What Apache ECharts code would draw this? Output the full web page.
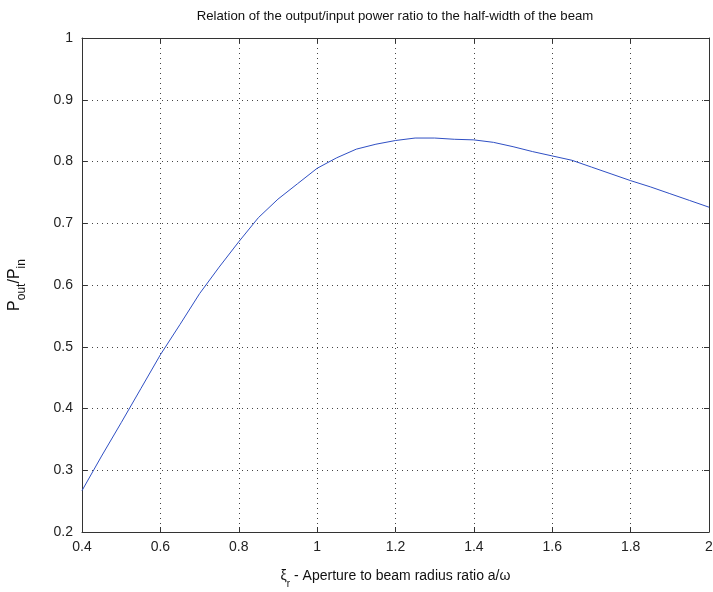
<!DOCTYPE html>
<html>
<head>
<meta charset="utf-8">
<script src="https://cdn.jsdelivr.net/npm/echarts@6/dist/echarts.min.js"></script>
<style>
  html, body { margin: 0; padding: 0; background: #fff; }
  #chart { width: 713px; height: 592px; }
</style>
</head>
<body>
<div id="chart"></div>
<script>
// Aperture-to-beam radius ratio (xi) and corresponding Pout/Pin
const xiValues = [0.4, 0.45, 0.5, 0.55, 0.6, 0.65, 0.7, 0.75, 0.8, 0.85, 0.9, 0.95,
                  1.0, 1.05, 1.1, 1.15, 1.2, 1.25, 1.3, 1.35, 1.4, 1.45, 1.5, 1.55,
                  1.6, 1.65, 1.7, 1.75, 1.8, 1.85, 1.9, 1.95, 2.0];
const powerRatio = [0.267, 0.323, 0.377, 0.432, 0.487, 0.536, 0.586, 0.629, 0.670, 0.709, 0.739, 0.764,
                    0.789, 0.806, 0.820, 0.828, 0.834, 0.838, 0.838, 0.836, 0.835, 0.831, 0.824, 0.816,
                    0.809, 0.802, 0.791, 0.780, 0.769, 0.759, 0.748, 0.737, 0.726];

const xTicks = { min: 0.4, max: 2, step: 0.2 };
const yTicks = { min: 0.2, max: 1, step: 0.1 };

const titleText = 'Relation of the output/input power ratio to the half-width of the beam';

const FONT = 'Liberation Sans, Arial, sans-serif';
const AXIS_COLOR = '#333';

const chart = echarts.init(document.getElementById('chart'), null, { renderer: 'canvas' });

const boxAxis = {
  axisLine: { show: true, lineStyle: { color: AXIS_COLOR, width: 1 } },
  axisTick: { show: true, inside: true, length: 5, lineStyle: { color: AXIS_COLOR } },
  axisLabel: { show: false },
  splitLine: { show: false }
};

chart.setOption({
  animation: false,
  backgroundColor: '#fff',
  title: {
    text: titleText,
    left: 390,
    textAlign: 'center',
    top: 5,
    textStyle: { fontFamily: FONT, fontSize: 13.2, fontWeight: 'normal', color: '#111' }
  },
  grid: { left: 82, right: 4, top: 38, bottom: 60, containLabel: false, outerBoundsMode: 'none' },
  xAxis: [{
    type: 'value',
    min: xTicks.min, max: xTicks.max, interval: xTicks.step,
    position: 'bottom',
    axisLine: { show: true, onZero: false, lineStyle: { color: AXIS_COLOR, width: 1 } },
    axisTick: { show: true, inside: true, length: 5, lineStyle: { color: AXIS_COLOR } },
    axisLabel: { fontFamily: FONT, fontSize: 14, color: '#222', margin: 8 },
    splitLine: { show: true, lineStyle: { color: '#444', type: [1, 4], width: 1 } },
    name: '{x|ξ}{s|r}{t| - Aperture to beam radius ratio a/ω}',
    nameLocation: 'middle',
    nameGap: 35,
    nameTextStyle: {
      fontFamily: FONT, color: '#111',
      rich: {
        x: { fontFamily: FONT, fontSize: 14, color: '#111', lineHeight: 18, verticalAlign: 'middle' },
        s: { fontFamily: FONT, fontSize: 10, color: '#111', lineHeight: 18, verticalAlign: 'bottom', padding: [0, 0, -4, 0] },
        t: { fontFamily: FONT, fontSize: 14, color: '#111', lineHeight: 18, verticalAlign: 'middle' }
      }
    }
  }, Object.assign({
    type: 'value', position: 'top',
    min: xTicks.min, max: xTicks.max, interval: xTicks.step
  }, boxAxis)],
  yAxis: [{
    type: 'value',
    min: yTicks.min, max: yTicks.max, interval: yTicks.step,
    position: 'left',
    axisLine: { show: true, onZero: false, lineStyle: { color: AXIS_COLOR, width: 1 } },
    axisTick: { show: true, inside: true, length: 5, lineStyle: { color: AXIS_COLOR } },
    axisLabel: { fontFamily: FONT, fontSize: 14, color: '#222', margin: 9 },
    splitLine: { show: true, lineStyle: { color: '#444', type: [1, 4], width: 1 } },
    name: '{p|P}{s|out}{p|/P}{s|in}',
    nameLocation: 'middle',
    nameRotate: 90,
    nameGap: 57,
    nameTextStyle: {
      fontFamily: FONT, color: '#111',
      rich: {
        p: { fontFamily: FONT, fontSize: 16, color: '#111', lineHeight: 20, verticalAlign: 'middle' },
        s: { fontFamily: FONT, fontSize: 12, color: '#111', lineHeight: 20, verticalAlign: 'bottom', padding: [0, 0, -3, 0] }
      }
    }
  }, Object.assign({
    type: 'value', position: 'right',
    min: yTicks.min, max: yTicks.max, interval: yTicks.step
  }, boxAxis)],
  series: [{
    type: 'line',
    data: xiValues.map((x, i) => [x, powerRatio[i]]),
    showSymbol: false,
    smooth: false,
    lineStyle: { color: '#2f4fc4', width: 1 },
    clip: true
  }]
});
</script>
</body>
</html>
